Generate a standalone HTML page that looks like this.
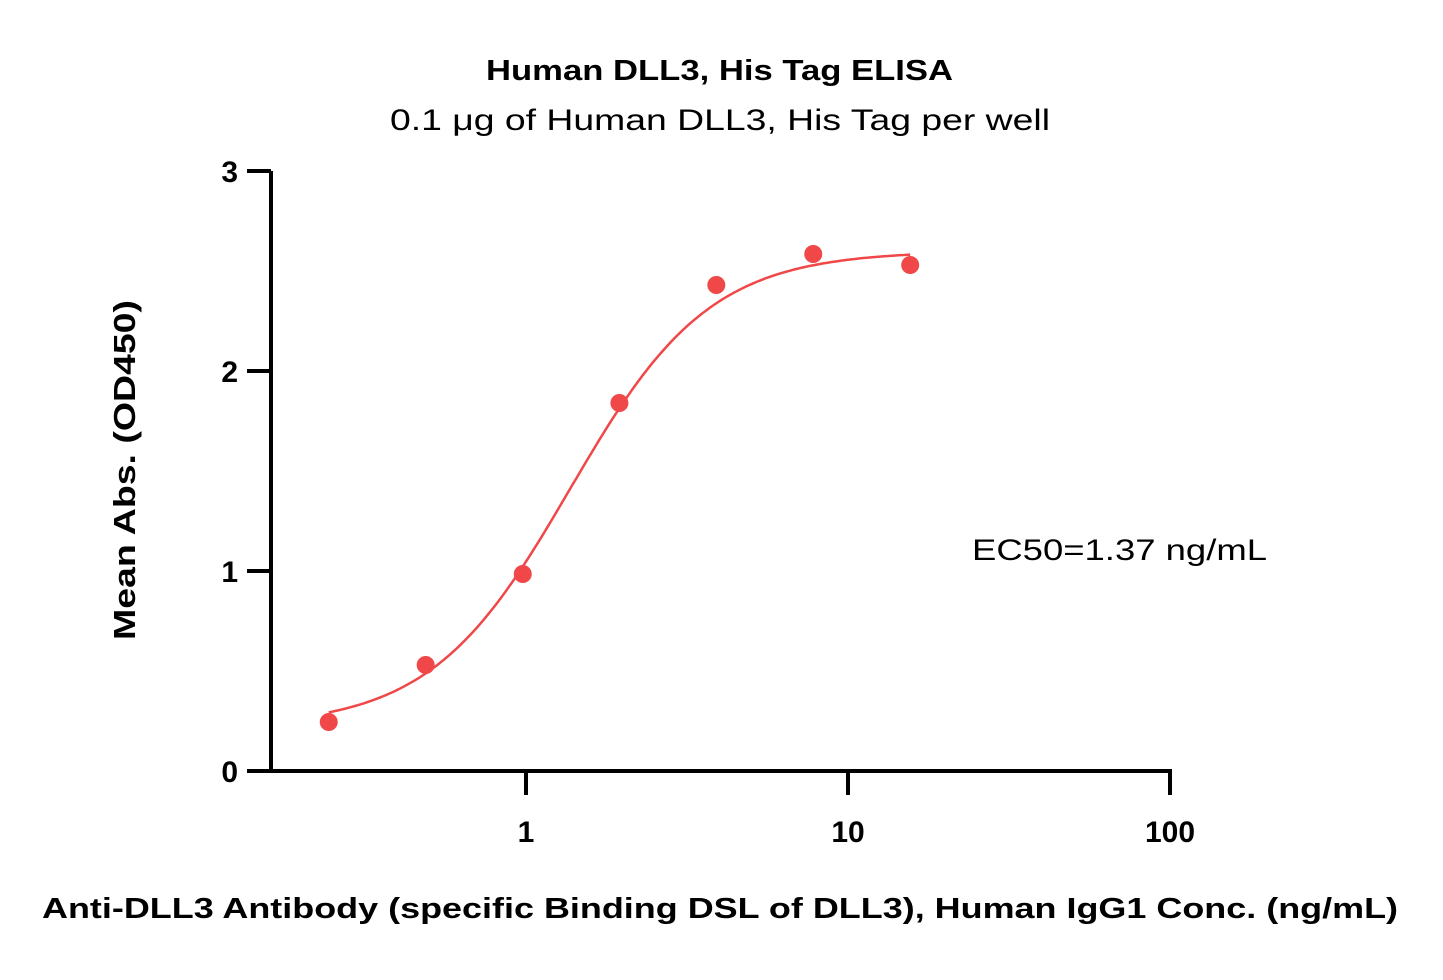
<!DOCTYPE html>
<html><head><meta charset="utf-8"><style>
body{margin:0;background:#fff;}
svg text{font-family:"Liberation Sans",sans-serif;fill:#000;}
</style></head><body>
<svg id="chart" width="1443" height="975" xmlns="http://www.w3.org/2000/svg">
<text x="486" y="80" textLength="467" lengthAdjust="spacingAndGlyphs" font-size="29" font-weight="bold">Human DLL3, His Tag ELISA</text>
<text x="390" y="130" textLength="660" lengthAdjust="spacingAndGlyphs" font-size="30">0.1 μg of Human DLL3, His Tag per well</text>
<text transform="translate(135,640) rotate(-90)" textLength="340" lengthAdjust="spacingAndGlyphs" font-size="31" font-weight="bold">Mean Abs. (OD450)</text>
<text x="42" y="918" textLength="1356" lengthAdjust="spacingAndGlyphs" font-size="29" font-weight="bold">Anti-DLL3 Antibody (specific Binding DSL of DLL3), Human IgG1 Conc. (ng/mL)</text>
<text x="972" y="560" textLength="295" lengthAdjust="spacingAndGlyphs" font-size="30">EC50=1.37 ng/mL</text>
<g id="axes"></g><g id="marks"></g>
</svg>
<script>
const concentrations=[0.244,0.488,0.977,1.95,3.9,7.8,15.6];
const absorbance=[0.245,0.53,0.985,1.84,2.43,2.585,2.53];
const fitParams=[0.22,2.6,1.37,2.0]; // bottom, top, EC50, hill
const yTicks=[0,1,2,3];
const xTicks=[1,10,100];
const NS="http://www.w3.org/2000/svg";
const xs=v=>526+322*Math.log10(v);
const ys=v=>771-200*v;
const ax=document.getElementById('axes'),mk=document.getElementById('marks');
function el(t,a,p){const e=document.createElementNS(NS,t);for(const k in a)e.setAttribute(k,a[k]);p.appendChild(e);return e;}
let l=el('line',{x1:271,y1:ys(3),x2:271,y2:773,stroke:'#000','stroke-width':4},ax);


l=el('line',{x1:269,y1:771,x2:1172,y2:771,stroke:'#000','stroke-width':4},ax);


yTicks.forEach(v=>{
 const t=el('line',{x1:247,y1:ys(v),x2:271,y2:ys(v),stroke:'#000','stroke-width':4},ax);
 
 
 const tx=el('text',{x:238,y:ys(v)+11,'text-anchor':'end','font-size':30,'font-weight':'bold'},ax);
 tx.textContent=v;
 
 
});
xTicks.forEach(v=>{
 const t=el('line',{x1:xs(v),y1:771,x2:xs(v),y2:795,stroke:'#000','stroke-width':4},ax);
 
 
 const tx=el('text',{x:xs(v),y:842,'text-anchor':'middle','font-size':30,'font-weight':'bold'},ax);
 tx.textContent=v;
 
 
});
const [b,tp,ec,h]=fitParams;
const f=x=>b+(tp-b)/(1+Math.pow(ec/x,h));
let d='';const lo=Math.log10(concentrations[0]),hi=Math.log10(concentrations[concentrations.length-1]);
for(let i=0;i<=200;i++){const x=Math.pow(10,lo+(hi-lo)*i/200);d+=(i?'L':'M')+xs(x).toFixed(1)+','+ys(f(x)).toFixed(1);}
const p=el('path',{d:d,fill:'none',stroke:'#f04848','stroke-width':2.5},mk);


concentrations.forEach((c,i)=>{
 const ci=el('circle',{cx:xs(c),cy:ys(absorbance[i]),r:9,fill:'#f04848'},mk);
 
 
});
</script>
</body></html>
